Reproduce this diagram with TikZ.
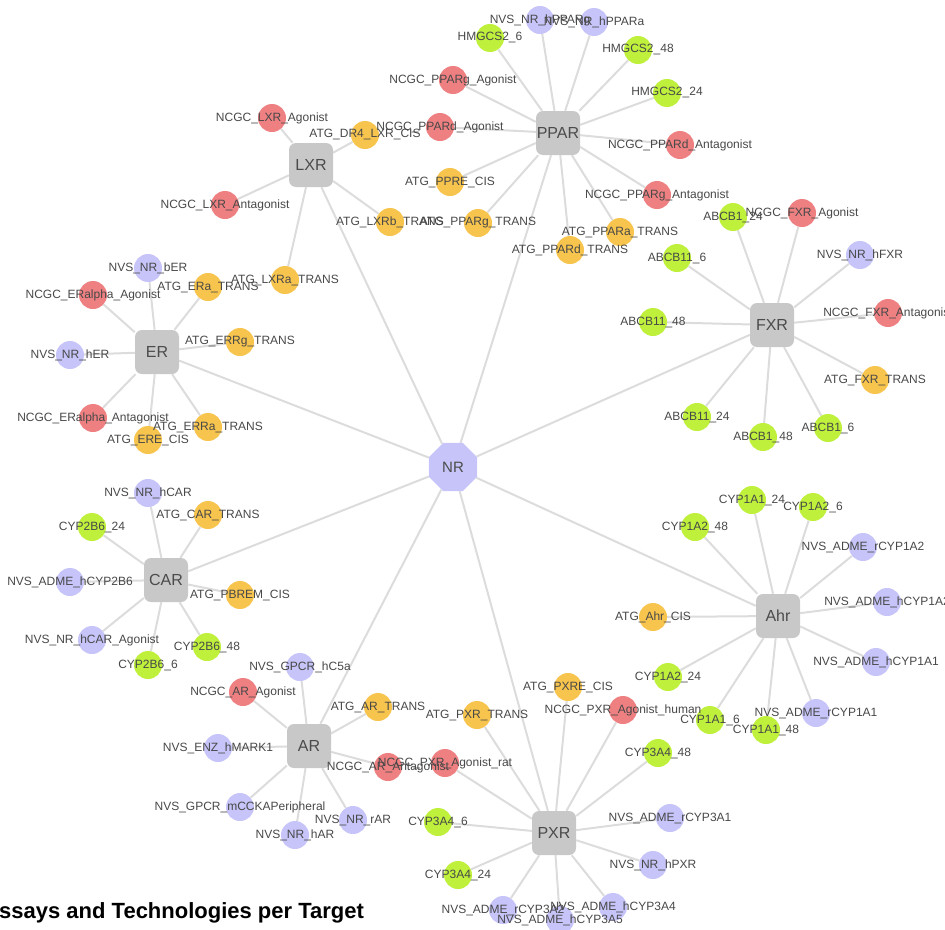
\documentclass[tikz,border=0pt]{standalone}
\usepackage{fontspec}
\setmainfont{Liberation Sans}
\usetikzlibrary{shapes.geometric}

\definecolor{nvs}{RGB}{198,196,248}
\definecolor{ncgc}{RGB}{238,128,130}
\definecolor{atg}{RGB}{247,196,78}
\definecolor{cyp}{RGB}{190,240,60}
\definecolor{hubgray}{RGB}{200,200,200}
\definecolor{hubtext}{RGB}{75,75,75}
\definecolor{lbltext}{RGB}{72,72,72}
\definecolor{linkgray}{RGB}{220,220,220}

\pgfdeclarelayer{bg}
\pgfdeclarelayer{fg}
\pgfsetlayers{bg,main,fg}

\tikzset{
  hub/.style={fill=hubgray,rounded corners=7pt,minimum size=44pt,inner sep=0pt,
    text=hubtext,font=\fontsize{16}{18}\selectfont},
  leaf/.style={circle,fill=#1,minimum size=28pt,inner sep=0pt},
  lbl/.style={text=lbltext,inner sep=0pt,font=\fontsize{12}{14}\selectfont},
  link/.style={draw=linkgray,line width=2pt},
}

\begin{document}
\begin{tikzpicture}[x=1pt,y=-1pt]
  \useasboundingbox (0,0) rectangle (945,929);

  \node[regular polygon,regular polygon sides=8,fill=nvs,minimum size=52pt,inner sep=0pt,
    text=hubtext,font=\fontsize{15}{17}\selectfont] (nr) at (453,467) {NR};

  \node[hub] (ppar) at (558,133) {PPAR};
  \node[hub] (lxr) at (311,165) {LXR};
  \node[hub] (er) at (157,352) {ER};
  \node[hub] (fxr) at (772,325) {FXR};
  \node[hub] (car) at (166,580) {CAR};
  \node[hub] (ar) at (309,746) {AR};
  \node[hub] (pxr) at (554,833) {PXR};
  \node[hub] (ahr) at (778,616) {Ahr};

  \begin{pgfonlayer}{bg}
    \foreach \h in {ppar,lxr,er,fxr,car,ar,pxr,ahr}
      \draw[link] (nr) -- (\h);
  \end{pgfonlayer}

  \foreach \hb/\list in {
    ppar/{540/20/nvs/NVS\_NR\_hPPARg, 594/22/nvs/NVS\_NR\_hPPARa, 490/38/cyp/HMGCS2\_6,
      638/50/cyp/HMGCS2\_48, 667/93/cyp/HMGCS2\_24, 453/80/ncgc/NCGC\_PPARg\_Agonist,
      440/127/ncgc/NCGC\_PPARd\_Agonist, 680/145/ncgc/NCGC\_PPARd\_Antagonist,
      450/182/atg/ATG\_PPRE\_CIS, 478/223/atg/ATG\_PPARg\_TRANS, 570/250/atg/ATG\_PPARd\_TRANS,
      620/232/atg/ATG\_PPARa\_TRANS, 657/195/ncgc/NCGC\_PPARg\_Antagonist},
    lxr/{272/118/ncgc/NCGC\_LXR\_Agonist, 365/135/atg/ATG\_DR4\_LXR\_CIS,
      225/205/ncgc/NCGC\_LXR\_Antagonist, 390/222/atg/ATG\_LXRb\_TRANS, 285/280/atg/ATG\_LXRa\_TRANS},
    er/{148/268/nvs/NVS\_NR\_bER, 93/295/ncgc/NCGC\_ERalpha\_Agonist, 208/287/atg/ATG\_ERa\_TRANS,
      240/342/atg/ATG\_ERRg\_TRANS, 70/355/nvs/NVS\_NR\_hER, 93/418/ncgc/NCGC\_ERalpha\_Antagonist,
      208/427/atg/ATG\_ERRa\_TRANS, 148/440/atg/ATG\_ERE\_CIS},
    fxr/{733/217/cyp/ABCB1\_24, 802/213/ncgc/NCGC\_FXR\_Agonist, 860/255/nvs/NVS\_NR\_hFXR,
      677/258/cyp/ABCB11\_6, 653/322/cyp/ABCB11\_48, 888/313/ncgc/NCGC\_FXR\_Antagonist,
      875/380/atg/ATG\_FXR\_TRANS, 697/417/cyp/ABCB11\_24, 763/437/cyp/ABCB1\_48, 828/428/cyp/ABCB1\_6},
    car/{148/493/nvs/NVS\_NR\_hCAR, 208/515/atg/ATG\_CAR\_TRANS, 92/527/cyp/CYP2B6\_24,
      70/582/nvs/NVS\_ADME\_hCYP2B6, 240/595/atg/ATG\_PBREM\_CIS, 92/640/nvs/NVS\_NR\_hCAR\_Agonist,
      207/647/cyp/CYP2B6\_48, 148/665/cyp/CYP2B6\_6},
    ar/{300/667/nvs/NVS\_GPCR\_hC5a, 243/692/ncgc/NCGC\_AR\_Agonist, 378/707/atg/ATG\_AR\_TRANS,
      218/748/nvs/NVS\_ENZ\_hMARK1, 388/767/ncgc/NCGC\_AR\_Antagonist,
      240/807/nvs/NVS\_GPCR\_mCCKAPeripheral, 353/820/nvs/NVS\_NR\_rAR, 295/835/nvs/NVS\_NR\_hAR},
    pxr/{568/687/atg/ATG\_PXRE\_CIS, 477/715/atg/ATG\_PXR\_TRANS, 623/710/ncgc/NCGC\_PXR\_Agonist\_human,
      445/763/ncgc/NCGC\_PXR\_Agonist\_rat, 658/753/cyp/CYP3A4\_48, 670/818/nvs/NVS\_ADME\_rCYP3A1,
      438/822/cyp/CYP3A4\_6, 653/865/nvs/NVS\_NR\_hPXR, 458/875/cyp/CYP3A4\_24,
      503/910/nvs/NVS\_ADME\_rCYP3A2, 613/907/nvs/NVS\_ADME\_hCYP3A4, 560/920/nvs/NVS\_ADME\_hCYP3A5},
    ahr/{752/500/cyp/CYP1A1\_24, 813/507/cyp/CYP1A2\_6, 695/527/cyp/CYP1A2\_48,
      863/547/nvs/NVS\_ADME\_rCYP1A2, 887/602/nvs/NVS\_ADME\_hCYP1A2, 653/617/atg/ATG\_Ahr\_CIS,
      876/662/nvs/NVS\_ADME\_hCYP1A1, 668/677/cyp/CYP1A2\_24, 816/713/nvs/NVS\_ADME\_rCYP1A1,
      710/720/cyp/CYP1A1\_6, 766/730/cyp/CYP1A1\_48}}
  {
    \foreach \x/\y/\c/\t [count=\i] in \list {
      \node[leaf=\c] (\hb-\i) at (\x,\y) {};
      \begin{pgfonlayer}{fg}
        \node[lbl] (\hb-\i-t) at (\hb-\i) {\t};
      \end{pgfonlayer}
      \begin{pgfonlayer}{bg}
        \draw[link] (\hb) -- (\hb-\i);
      \end{pgfonlayer}
    }
  }

  \node[anchor=base west,inner sep=0pt,font=\fontsize{22}{24}\selectfont\bfseries]
    (caption) at (-1,918) {ssays and Technologies per Target};
\end{tikzpicture}
\end{document}
